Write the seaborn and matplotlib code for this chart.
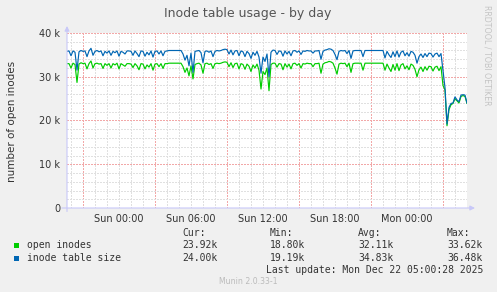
import numpy as np
import pandas as pd
import matplotlib
matplotlib.use("Agg")
import matplotlib.pyplot as plt
import matplotlib.dates as mdates
from matplotlib.ticker import MultipleLocator, FuncFormatter, NullFormatter
from matplotlib.patches import Rectangle
import seaborn as sns

# ---------------- data ----------------
title = "Inode table usage - by day"
ylabel = "number of open inodes"
series_names = ["open inodes", "inode table size"]
series_colors = ["#00CC00", "#0066B3"]
start_time = "2025-12-20 19:40"
sample_step = "10min"

# values in thousands (k), one every 10 minutes
open_k = [
    33.0, 33.0, 32.0, 33.1, 32.8, 28.7, 32.9, 33.2, 33.0, 33.1,
    31.8, 33.0, 33.6, 32.0, 33.0, 33.1, 32.9, 33.0, 31.9, 33.0,
    32.6, 33.0, 32.0, 33.0, 32.7, 33.1, 31.8, 33.0, 32.7, 32.4,
    33.0,
    33.0, 32.9, 32.1, 33.0, 32.5, 31.6, 33.0, 32.9, 31.8, 32.7,
    32.2, 33.0, 31.5, 32.9, 33.0, 32.3, 33.0, 31.9, 33.0, 33.0,
    33.1, 33.1, 33.1, 33.1, 33.1, 33.1,
    33.1, 32.3, 31.0, 32.0, 30.2, 32.5, 29.5, 32.8, 33.0, 33.1,
    32.7, 30.8, 33.0, 33.1, 32.8, 33.0, 31.9, 33.0, 33.1, 33.0,
    33.1, 33.3, 33.4, 33.3, 32.3, 33.2, 32.1, 33.0, 33.1, 31.8,
    33.0, 32.8, 31.7, 32.9, 32.4, 31.2, 32.7, 32.0, 32.9, 31.5,
    27.2, 31.2, 30.5, 32.0, 26.8, 32.8, 33.1,
    33.1, 32.2, 33.0, 32.9, 31.6, 33.0, 32.2, 32.9, 31.8, 33.0,
    33.1, 32.6, 33.0, 32.0, 33.0, 32.9, 33.1, 33.0, 33.0, 32.3,
    33.0, 33.0, 33.1, 30.8, 32.9, 33.2, 33.3, 33.5, 33.4, 33.1,
    32.0, 30.6, 32.9, 33.1, 33.0, 33.1, 32.3, 33.1, 31.0, 33.0,
    33.1, 33.1, 33.1, 33.1, 31.5, 33.1, 33.1, 33.1, 33.1, 33.1,
    33.1, 33.1, 33.1, 33.1,
    33.1, 31.5, 32.9, 32.0, 31.2, 32.8, 31.5, 33.0, 31.4, 32.7,
    33.0, 31.8, 32.5, 31.6, 32.9, 32.6, 31.7, 30.0, 31.6, 32.2,
    31.2, 32.3, 31.5, 32.4, 32.3, 31.3, 32.2, 32.4, 31.4, 32.3,
    28.0, 27.0, 18.8, 22.5, 23.6, 23.9, 25.0, 24.5, 24.0, 25.5,
    25.7, 25.5, 23.92,
]
table_k = [
    35.8, 35.9, 34.8, 35.9, 35.6, 31.5, 35.7, 36.0, 35.8, 35.9,
    34.6, 35.9, 36.5, 34.9, 35.8, 36.0, 35.7, 35.9, 34.8, 35.8,
    35.4, 35.9, 34.9, 35.8, 35.5, 35.9, 34.7, 35.8, 35.6, 35.2,
    35.9,
    35.9, 35.8, 34.9, 35.9, 35.3, 34.6, 35.9, 35.8, 34.7, 35.6,
    35.0, 35.9, 34.5, 35.8, 35.9, 35.2, 35.9, 34.8, 35.8, 35.9,
    36.0, 36.0, 36.0, 36.0, 36.0, 36.0,
    36.0, 35.2, 33.8, 34.9, 32.5, 35.4, 31.0, 35.8, 35.9, 36.0,
    35.5, 33.2, 35.8, 35.9, 35.6, 35.9, 34.6, 35.8, 36.0, 35.9,
    36.0, 36.2, 36.3, 36.2, 35.2, 36.1, 35.0, 35.9, 36.0, 34.8,
    35.9, 35.7, 34.6, 35.8, 35.3, 34.2, 35.6, 34.9, 35.8, 34.5,
    30.8, 34.5, 33.5, 35.2, 30.0, 35.6, 36.1,
    36.0, 35.1, 35.9, 35.8, 34.7, 35.9, 35.2, 35.8, 34.8, 35.9,
    36.0, 35.6, 35.9, 35.1, 35.9, 35.8, 36.0, 35.9, 35.9, 35.4,
    35.9, 35.9, 36.0, 34.0, 35.8, 36.1, 36.2, 36.4, 36.3, 36.0,
    35.1, 33.9, 35.8, 36.0, 35.9, 36.0, 35.3, 36.0, 34.2, 35.9,
    36.0, 36.0, 36.0, 36.0, 34.6, 36.0, 36.0, 36.0, 36.0, 36.0,
    36.0, 36.0, 36.0, 36.0,
    36.0, 34.3, 35.8, 35.0, 34.4, 35.7, 34.6, 35.9, 34.5, 35.6,
    35.9, 34.8, 35.5, 34.7, 35.8, 35.6, 34.9, 33.1, 34.6, 35.2,
    34.4, 35.3, 34.6, 35.4, 35.3, 34.5, 35.2, 35.4, 34.6, 35.3,
    31.3, 27.5, 19.19, 23.0, 23.9, 24.0, 25.4, 24.7, 24.3, 25.8,
    25.9, 25.8, 24.0,
]

stats_header = ["Cur:", "Min:", "Avg:", "Max:"]
open_stats = ["23.92k", "18.80k", "32.11k", "33.62k"]
table_stats = ["24.00k", "19.19k", "34.83k", "36.48k"]
last_update = "Last update: Mon Dec 22 05:00:28 2025"
footer = "Munin 2.0.33-1"
watermark = "RRDTOOL / TOBI OETIKER"

# ---------------- build frame ----------------
times = pd.date_range(start_time, periods=len(open_k), freq=sample_step)
df = pd.concat([
    pd.DataFrame({"time": times, "value": np.array(open_k) * 1000, "series": series_names[0]}),
    pd.DataFrame({"time": times, "value": np.array(table_k) * 1000, "series": series_names[1]}),
])

# ---------------- figure ----------------
W, H = 497, 292
fig = plt.figure(figsize=(W / 100, H / 100), dpi=100)
fig.patch.set_facecolor("#F0F0F0")

L, R, T, B = 67, 467, 33, 208
ax = fig.add_axes([L / W, 1 - B / H, (R - L) / W, (B - T) / H])
ax.set_facecolor("white")

# lines
for name, col in zip(series_names, series_colors):
    sns.lineplot(data=df[df["series"] == name], x="time", y="value", color=col,
                 lw=0.85, ax=ax, legend=False, zorder=3)
ax.set_xlabel("")
ax.set_ylabel("")

# grid: red major (x every 6h offset by 3h, y every 10k), grey minor (1h, 2k)
minor_c = "#E0E0E0"
major_c = "#F2A8A8"
dot = (0, (1.39, 1.39))
red_hours = [3, 9, 15, 21]
label_hours = [0, 6, 12, 18]
ax.set_xlim(times[0], times[-1])
ax.set_ylim(0, 40000)
ax.yaxis.set_major_locator(MultipleLocator(10000))
ax.yaxis.set_minor_locator(MultipleLocator(2000))
ax.xaxis.set_major_locator(mdates.HourLocator(byhour=red_hours))
ax.xaxis.set_major_formatter(NullFormatter())
ax.xaxis.set_minor_locator(mdates.HourLocator(byhour=[h for h in range(24) if h not in red_hours]))


def hour_label(v, pos):
    d = mdates.num2date(v)
    return d.strftime("%a %H:%M") if (d.hour in label_hours and d.minute == 0) else ""


ax.xaxis.set_minor_formatter(FuncFormatter(hour_label))
ax.yaxis.set_major_formatter(FuncFormatter(lambda v, p: "0" if v == 0 else f"{int(v/1000)} k"))

gkw = dict(lw=0.72, linestyle=dot, antialiased=False)
ax.grid(which="minor", axis="both", color=minor_c, **gkw)
ax.grid(which="major", axis="both", color=major_c, **gkw)
ax.set_axisbelow(True)

for s in ax.spines.values():
    s.set_visible(False)
ax.tick_params(axis="both", which="both", length=0)
ax.tick_params(axis="x", which="both", pad=4, labelsize=7, labelcolor="#333333")
ax.tick_params(axis="y", pad=5, labelsize=7, labelcolor="#333333")
for lab in ax.get_xticklabels(minor=True) + ax.get_yticklabels():
    lab.set_family("DejaVu Sans")

# axis arrows
arrow_c = "#C8C8F8"
ax.annotate("", xy=(1.02, 0), xytext=(-0.013, 0), xycoords="axes fraction",
            arrowprops=dict(arrowstyle="-|>", color=arrow_c, lw=0.8, mutation_scale=7,
                            shrinkA=0, shrinkB=0), annotation_clip=False, zorder=5)
ax.annotate("", xy=(0, 1.04), xytext=(0, -0.02), xycoords="axes fraction",
            arrowprops=dict(arrowstyle="-|>", color=arrow_c, lw=0.8, mutation_scale=7,
                            shrinkA=0, shrinkB=0), annotation_clip=False, zorder=5)

# texts
def fx(px):
    return px / W

def fy(py):
    return 1 - py / H

fig.text(fx(248), fy(13), title, ha="center", va="center", fontsize=9,
         color="#555555", family="DejaVu Sans")
fig.text(fx(12), fy(121), ylabel, ha="center", va="center", rotation=90,
         fontsize=7.5, color="#333333", family="DejaVu Sans")
fig.text(fx(487.5), fy(5), watermark, ha="center", va="top", rotation=270,
         fontsize=5.7, color="#C4C4C4", family="DejaVu Sans")

mono = "DejaVu Sans Mono"
col_x = [182, 270, 358, 447]
for cx, h in zip(col_x, stats_header):
    fig.text(fx(cx), fy(233), h, ha="left", va="center", fontsize=7, color="#333333", family=mono)
rows_y = [245, 258]
for ry, name, col, stats in zip(rows_y, series_names, series_colors, [open_stats, table_stats]):
    fig.patches.append(Rectangle((fx(14), fy(ry + 2.5)), 5 / W, 5 / H,
                                 transform=fig.transFigure, facecolor=col, edgecolor="none"))
    fig.text(fx(27), fy(ry), name, ha="left", va="center", fontsize=7, color="#333333", family=mono)
    for cx, s in zip(col_x, stats):
        fig.text(fx(cx), fy(ry), s, ha="left", va="center", fontsize=7, color="#333333", family=mono)
fig.text(fx(483), fy(270), last_update, ha="right", va="center", fontsize=7,
         color="#333333", family=mono)
fig.text(fx(248.5), fy(281), footer, ha="center", va="center", fontsize=5.6,
         color="#BBBBBB", family="DejaVu Sans")

fig.savefig("out.png", dpi=100, facecolor=fig.get_facecolor())
